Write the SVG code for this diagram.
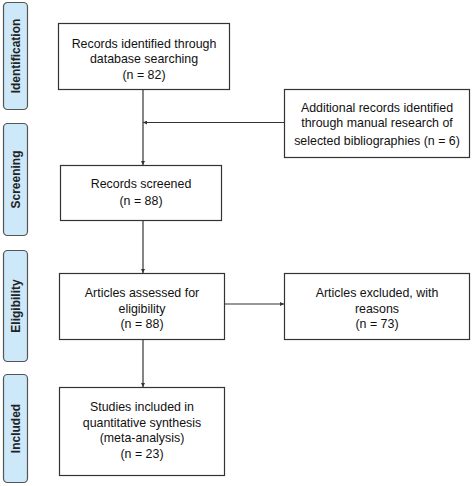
<svg xmlns="http://www.w3.org/2000/svg" width="472" height="486" viewBox="0 0 472 486">
<style>
.phase{fill:#cde8f8;stroke:#555;stroke-width:1.2}
.ptxt{font-family:"Liberation Sans",Arial,sans-serif;font-size:12px;font-weight:bold;fill:#222;text-anchor:middle}
.box{fill:#fff;stroke:#333;stroke-width:1.2}
.txt{font-family:"Liberation Sans",Arial,sans-serif;font-size:12.4px;fill:#111;text-anchor:middle}
.conn{stroke:#333;stroke-width:1.2;fill:none}
</style>
<defs>
<marker id="arr" viewBox="0 0 6 6" refX="6" refY="3" markerWidth="4" markerHeight="4" orient="auto" markerUnits="userSpaceOnUse">
<path d="M0,0 L6,3 L0,6 Z" fill="#333"/>
</marker>
</defs>
<rect width="472" height="486" fill="#fff"/>
<g id="phase-identification">
<rect class="phase" x="3.5" y="2.5" width="24" height="107" rx="4"/>
<text class="ptxt" transform="translate(20,56) rotate(-90)">Identification</text>
</g>
<g id="phase-screening">
<rect class="phase" x="3.5" y="123.5" width="24" height="112" rx="4"/>
<text class="ptxt" transform="translate(20,179.5) rotate(-90)">Screening</text>
</g>
<g id="phase-eligibility">
<rect class="phase" x="3.5" y="250.5" width="24" height="111" rx="4"/>
<text class="ptxt" transform="translate(20,306) rotate(-90)">Eligibility</text>
</g>
<g id="phase-included">
<rect class="phase" x="3.5" y="374.5" width="24" height="108" rx="4"/>
<text class="ptxt" transform="translate(20,428.5) rotate(-90)">Included</text>
</g>
<g id="connectors">
<line class="conn" x1="143" y1="89" x2="143" y2="165" marker-end="url(#arr)"/>
<line class="conn" x1="284" y1="122.5" x2="143" y2="122.5" marker-end="url(#arr)"/>
<line class="conn" x1="143" y1="221" x2="143" y2="273" marker-end="url(#arr)"/>
<line class="conn" x1="224" y1="304" x2="284" y2="304" marker-end="url(#arr)"/>
<line class="conn" x1="143" y1="339" x2="143" y2="387" marker-end="url(#arr)"/>
</g>
<g id="node-records-identified">
<rect class="box" x="58.5" y="23.5" width="171" height="66"/>
<text class="txt" x="144" y="47.5">Records identified through</text>
<text class="txt" x="144" y="63">database searching</text>
<text class="txt" x="144" y="78.5">(n = 82)</text>
</g>
<g id="node-additional-records">
<rect class="box" x="284.5" y="89.5" width="185" height="68"/>
<text class="txt" x="377" y="111.5">Additional records identified</text>
<text class="txt" x="377" y="127">through manual research of</text>
<text class="txt" x="377" y="144.5">selected bibliographies (n = 6)</text>
</g>
<g id="node-records-screened">
<rect class="box" x="60.5" y="165.5" width="161" height="55"/>
<text class="txt" x="141" y="187.5">Records screened</text>
<text class="txt" x="141" y="204.5">(n = 88)</text>
</g>
<g id="node-articles-assessed">
<rect class="box" x="59.5" y="273.5" width="165" height="66"/>
<text class="txt" x="142" y="296.5">Articles assessed for</text>
<text class="txt" x="142" y="312.5">eligibility</text>
<text class="txt" x="142" y="327.5">(n = 88)</text>
</g>
<g id="node-articles-excluded">
<rect class="box" x="284.5" y="273.5" width="185" height="66"/>
<text class="txt" x="377" y="296.5">Articles excluded, with</text>
<text class="txt" x="377" y="312.5">reasons</text>
<text class="txt" x="377" y="327.5">(n = 73)</text>
</g>
<g id="node-studies-included">
<rect class="box" x="59.5" y="387.5" width="165" height="88"/>
<text class="txt" x="142" y="410.5">Studies included in</text>
<text class="txt" x="142" y="426.5">quantitative synthesis</text>
<text class="txt" x="142" y="441.5">(meta-analysis)</text>
<text class="txt" x="142" y="457.5">(n = 23)</text>
</g>
</svg>
